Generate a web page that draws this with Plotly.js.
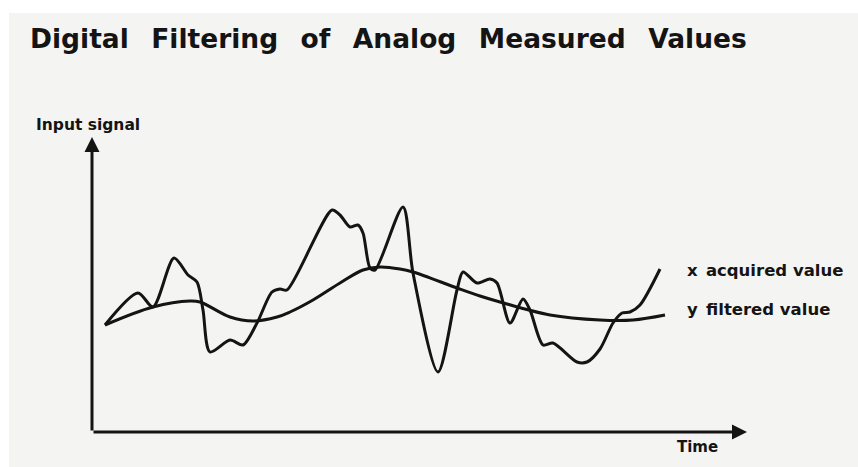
<!DOCTYPE html>
<html>
<head>
<meta charset="utf-8">
<script src="https://cdn.plot.ly/plotly-3.0.1.min.js"></script>
<style>
  html, body { margin: 0; padding: 0; background: #ffffff; }
  #chart { width: 858px; height: 467px; }
</style>
</head>
<body>
<div id="chart"></div>
<script>
// Time (arbitrary units) and input signal (arbitrary units)
var acquiredTime = [13, 46, 61, 82, 96, 105, 111, 118, 138, 151, 165, 180, 188, 195, 240, 248, 258, 266, 271, 278, 283, 311, 321, 346, 365, 371, 385, 398, 405, 418, 431, 438, 451, 461, 485, 495, 508, 521, 530, 538, 548, 568];
var acquiredValue = [107, 139, 125, 174, 157, 150, 122, 80, 92, 87, 109, 140, 143, 142, 222, 217, 205, 207, 199, 164, 162, 225, 159, 60, 142, 160, 149, 153, 149, 109, 133, 122, 87, 89, 70, 70, 83, 109, 119, 120, 127, 163];

var filteredTime = [13, 61, 98, 108, 138, 161, 185, 198, 221, 248, 271, 288, 308, 321, 365, 388, 408, 458, 508, 541, 573];
var filteredValue = [107, 125, 131, 130, 115, 111, 115, 120, 132, 149, 162, 165, 163, 160, 144, 136, 130, 117, 112, 112, 117];

var titleText = "Digital Filtering of Analog Measured Values";
var yLabel = "Input signal";
var xLabel = "Time";
var seriesLabels = ["x\u2002acquired value", "y\u2002filtered value"];

var xMax = 655, yMax = 295;
var ink = "#141414";
var FONT = "DejaVu Sans";

var traces = [
  { x: acquiredTime, y: acquiredValue, mode: "lines", name: "acquired value",
    line: { color: ink, width: 3, shape: "spline", smoothing: 0.8 }, hoverinfo: "skip" },
  { x: filteredTime, y: filteredValue, mode: "lines", name: "filtered value",
    line: { color: ink, width: 3, shape: "spline", smoothing: 1 }, hoverinfo: "skip" }
];

var wide = function (s) { return s.split(" ").join(" \u2002"); };

var layout = {
  width: 858, height: 467,
  margin: { l: 92, r: 858 - 92 - xMax, t: 137, b: 35, pad: 0 },
  paper_bgcolor: "#ffffff",
  plot_bgcolor: "rgba(0,0,0,0)",
  showlegend: false,
  title: {
    text: wide(titleText),
    font: { family: FONT, size: 26.5, color: ink, weight: "bold" },
    x: 30 / 858, xanchor: "left", xref: "container",
    y: 1 - 39 / 467, yanchor: "middle", yref: "container"
  },
  xaxis: { range: [0, xMax], visible: false, fixedrange: true },
  yaxis: { range: [0, yMax], visible: false, fixedrange: true },
  shapes: [
    { type: "rect", xref: "paper", yref: "paper", layer: "below",
      x0: (9 - 92) / xMax, x1: (858 - 92) / xMax, y0: -35 / yMax, y1: (432 - 13) / yMax,
      fillcolor: "#f4f4f2", line: { width: 0 } }
  ],
  annotations: [
    // axes with arrowheads
    { x: xMax, y: 0, ax: 0, ay: 0, xref: "x", yref: "y", axref: "x", ayref: "y",
      showarrow: true, arrowhead: 2, arrowsize: 1, arrowwidth: 3, arrowcolor: ink, text: "" },
    { x: 0, y: yMax, ax: 0, ay: 0, xref: "x", yref: "y", axref: "x", ayref: "y",
      showarrow: true, arrowhead: 2, arrowsize: 1, arrowwidth: 3, arrowcolor: ink, text: "" },
    // axis labels
    { x: (34 - 92) / xMax, y: (432 - 125) / yMax, xref: "paper", yref: "paper", xanchor: "left", yanchor: "middle", showarrow: false,
      text: yLabel, font: { family: FONT, size: 15.5, color: ink, weight: "bold" } },
    { x: (675 - 92) / xMax, y: (432 - 447) / yMax, xref: "paper", yref: "paper", xanchor: "left", yanchor: "middle", showarrow: false,
      text: xLabel, font: { family: FONT, size: 15, color: ink, weight: "bold" } },
    // series labels
    { x: (685 - 92) / xMax, y: (432 - 270) / yMax, xref: "paper", yref: "paper", xanchor: "left", yanchor: "middle", showarrow: false,
      text: seriesLabels[0], font: { family: FONT, size: 16.5, color: ink, weight: "bold" } },
    { x: (685 - 92) / xMax, y: (432 - 309) / yMax, xref: "paper", yref: "paper", xanchor: "left", yanchor: "middle", showarrow: false,
      text: seriesLabels[1], font: { family: FONT, size: 16.5, color: ink, weight: "bold" } }
  ]
};

Plotly.newPlot("chart", traces, layout, { staticPlot: true, displayModeBar: false });
</script>
</body>
</html>
